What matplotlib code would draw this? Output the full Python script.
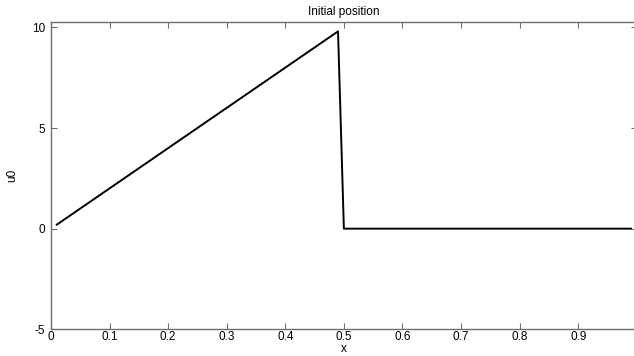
import numpy as np
import matplotlib
matplotlib.use("Agg")
import matplotlib.pyplot as plt

plt.rcParams['font.family'] = ['Liberation Sans', 'DejaVu Sans']

# Grid points and initial displacement: ramp 20*x up to x < 0.5, zero afterwards
x = np.round(np.arange(1, 100) * 0.01, 2)
u0 = np.where(x < 0.5, 20 * x, 0.0)

xticks = [0, 0.1, 0.2, 0.3, 0.4, 0.5, 0.6, 0.7, 0.8, 0.9]
xticklabels = ["0", "0.1", "0.2", "0.3", "0.4", "0.5", "0.6", "0.7", "0.8", "0.9"]
yticks = [-5, 0, 5, 10]
yticklabels = ["-5", "0", "5", "10"]

fig = plt.figure(figsize=(6.34, 3.56), dpi=100)
ax = fig.add_axes([0.0804, 0.075, 0.924, 0.864])

ax.plot(x, u0, color='black', linewidth=1.4)

ax.set_xlim(0, 1)
ax.set_ylim(-5, 10.28)
ax.set_xticks(xticks)
ax.set_xticklabels(xticklabels)
ax.set_yticks(yticks)
ax.set_yticklabels(yticklabels)

spine_col = '#6e6e6e'
for s in ax.spines.values():
    s.set_color(spine_col)
    s.set_linewidth(1.0)

ax.tick_params(direction='in', length=4, width=0.8, color=spine_col,
               top=True, right=True, labelsize=8.5, labelcolor='black')
ax.tick_params(axis='x', pad=1)
ax.tick_params(axis='y', pad=4)

ax.set_title("Initial position", fontsize=8.5, pad=5)
ax.set_xlabel("x", fontsize=8.5, labelpad=0)
ax.set_ylabel("u0", fontsize=8.5, labelpad=10)

fig.savefig("out.png", dpi=100)
